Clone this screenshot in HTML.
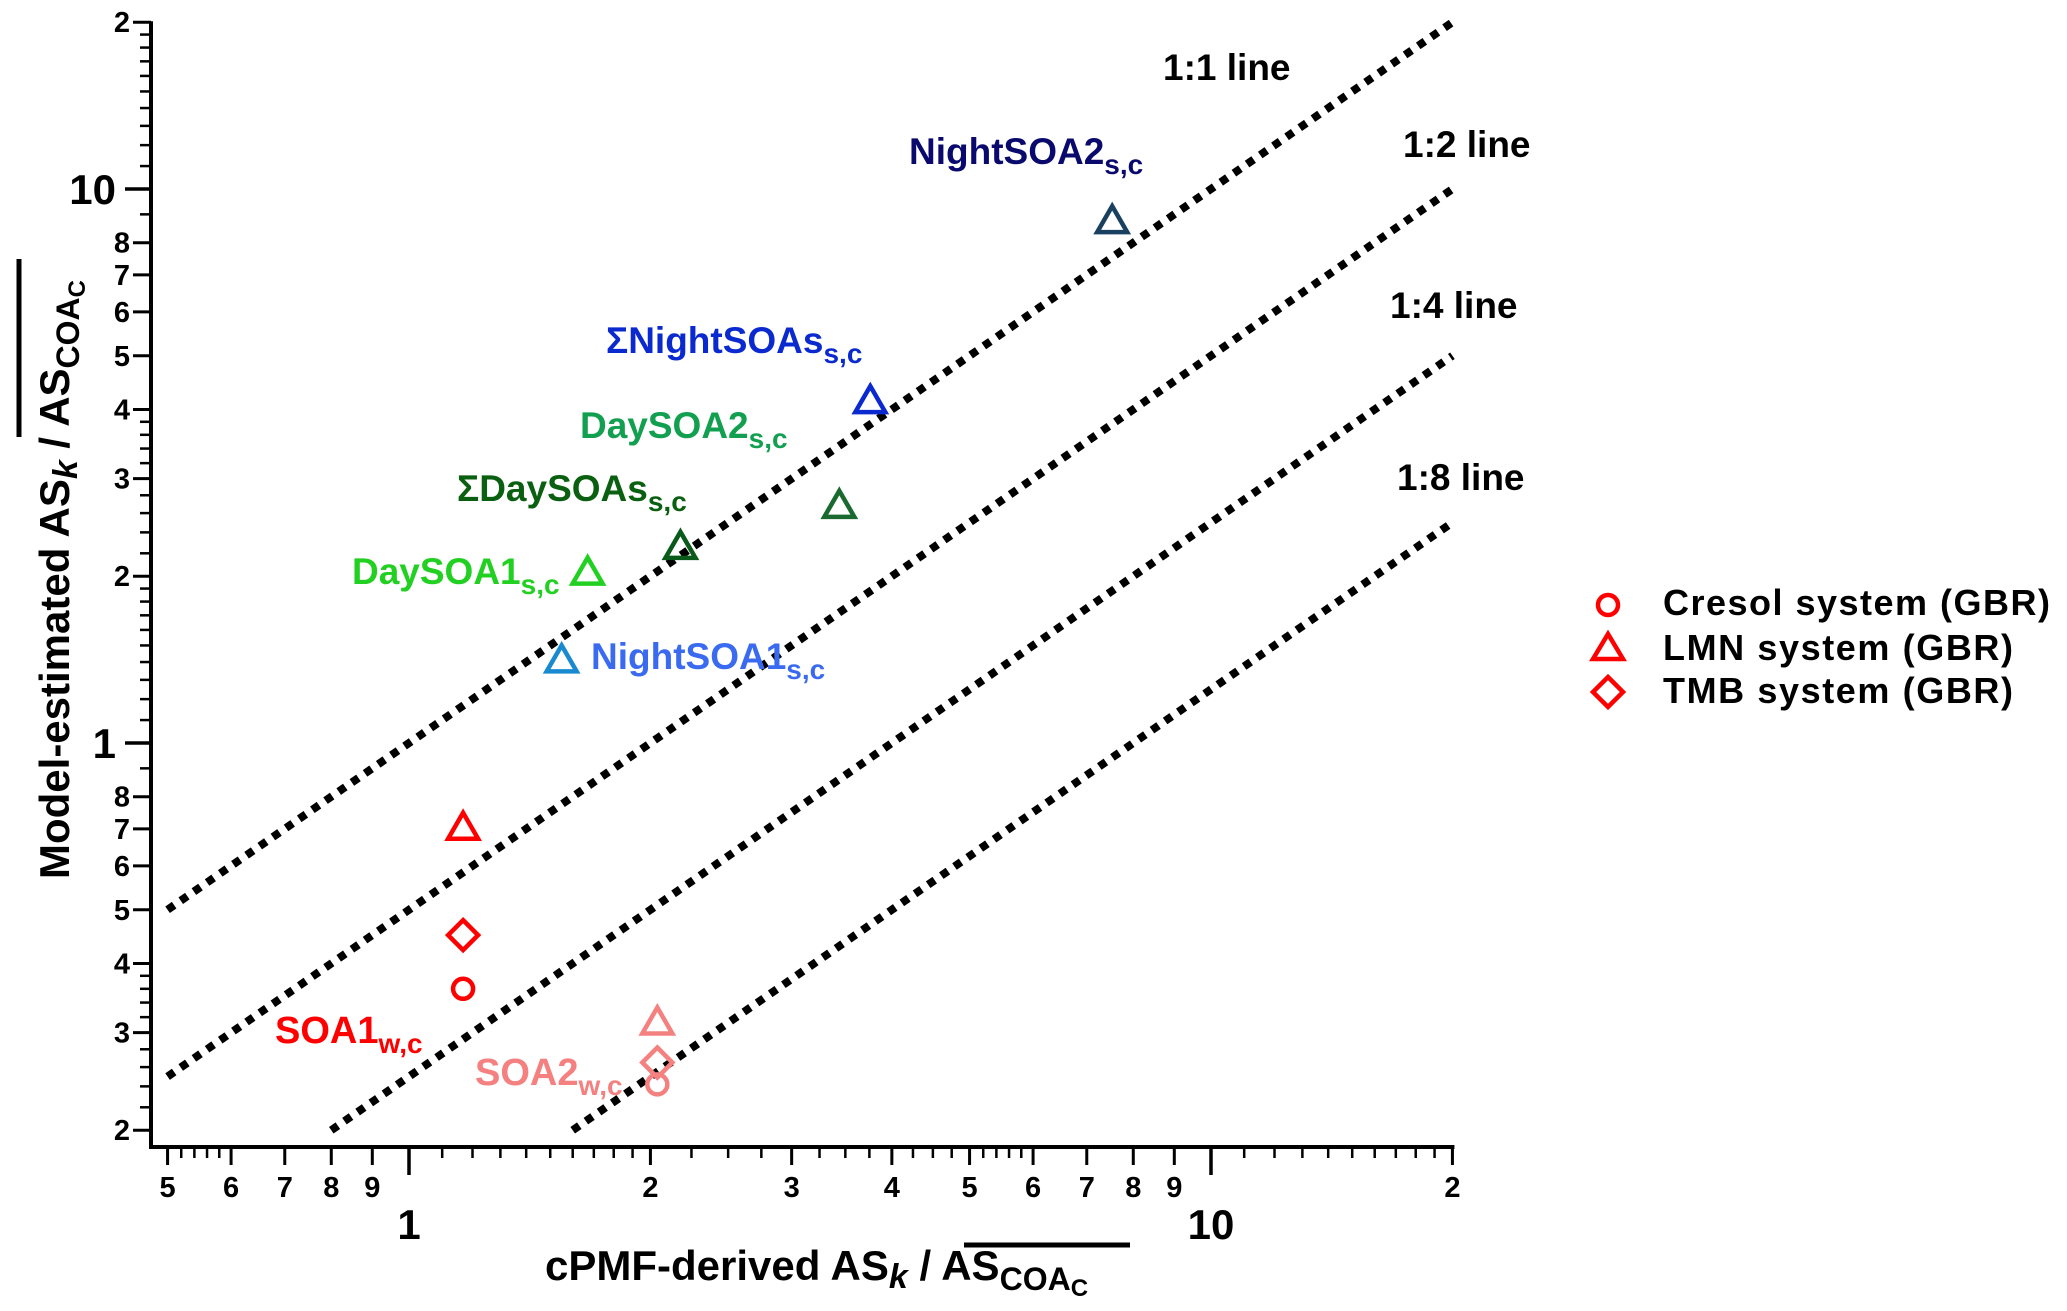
<!DOCTYPE html>
<html><head><meta charset="utf-8"><style>
html,body{margin:0;padding:0;background:#fff}
svg{display:block}
text{font-family:"Liberation Sans",Arial,sans-serif;font-weight:bold}
</style></head><body>
<svg id="chart" width="2067" height="1311" viewBox="0 0 2067 1311" xmlns="http://www.w3.org/2000/svg">
<g id="axes"></g>
<g id="ratio-lines"></g>
<g id="marks"></g>
<g id="labels">
<text x="909" y="164" font-size="37" fill="#0a0a6e">NightSOA2<tspan font-size="28" dy="10">s,c</tspan></text>
<text x="606" y="353" font-size="37" fill="#0a2ad0">ΣNightSOAs<tspan font-size="28" dy="10">s,c</tspan></text>
<text x="580" y="438" font-size="37" fill="#12a050">DaySOA2<tspan font-size="28" dy="10">s,c</tspan></text>
<text x="457" y="501" font-size="37" fill="#0a6010">ΣDaySOAs<tspan font-size="28" dy="10">s,c</tspan></text>
<text x="352" y="584" font-size="37" fill="#22d022">DaySOA1<tspan font-size="28" dy="10">s,c</tspan></text>
<text x="591" y="669" font-size="37" fill="#3a6af0">NightSOA1<tspan font-size="28" dy="10">s,c</tspan></text>
<text x="275" y="1043" font-size="38" fill="#ff0000">SOA1<tspan font-size="28" dy="10">w,c</tspan></text>
<text x="475" y="1085" font-size="38" fill="#f48080">SOA2<tspan font-size="28" dy="10">w,c</tspan></text>
<text x="1163" y="80" font-size="37" fill="#000">1:1 line</text>
<text x="1403" y="157" font-size="37" fill="#000">1:2 line</text>
<text x="1390" y="318" font-size="37" fill="#000">1:4 line</text>
<text x="1397" y="490" font-size="37" fill="#000">1:8 line</text>
</g>
<g id="legend">
<circle cx="1608" cy="605" r="10" fill="none" stroke="#ff0000" stroke-width="4.5"/>
<polygon points="1608,634 1623,659 1593,659" fill="none" stroke="#ff0000" stroke-width="4.5"/>
<polygon points="1608,677 1623,692 1608,707 1593,692" fill="none" stroke="#ff0000" stroke-width="4.5"/>
<text x="1663" y="615" font-size="36" textLength="387">Cresol system (GBR)</text>
<text x="1663" y="660" font-size="36" textLength="350">LMN system (GBR)</text>
<text x="1663" y="703" font-size="36" textLength="350">TMB system (GBR)</text>
</g>
<g id="titles">
<text x="545" y="1280" font-size="42">cPMF-derived AS<tspan font-style="italic" font-size="34" dy="8">k</tspan><tspan dy="-8"> / AS</tspan><tspan font-size="32" dy="10">COA</tspan><tspan font-size="24" dy="6">C</tspan></text>
<line x1="964" y1="1245" x2="1130" y2="1245" stroke="#000" stroke-width="5"/>
<g transform="translate(69,879) rotate(-90)">
<text x="0" y="0" font-size="42">Model-estimated AS<tspan font-style="italic" font-size="34" dy="8">k</tspan><tspan dy="-8"> / AS</tspan><tspan font-size="32" dy="10">COA</tspan><tspan font-size="24" dy="6">C</tspan></text>
<line x1="442" y1="-50" x2="620" y2="-50" stroke="#000" stroke-width="5"/>
</g>
</g>
</svg>
<script>
const xCats=["NightSOA2","SumNightSOAs","SumDaySOAs","DaySOA2","DaySOA1","NightSOA1","SOA1-LMN","SOA1-TMB","SOA1-Cresol","SOA2-LMN","SOA2-TMB","SOA2-Cresol"];
const xValues=[7.53,3.76,3.44,2.18,1.67,1.55,1.168,1.168,1.168,2.04,2.04,2.04];
const yValues=[8.75,4.14,2.68,2.26,2.03,1.41,0.703,0.45,0.36,0.313,0.265,0.242];
const markerShapes=["tri","tri","tri","tri","tri","tri","tri","dia","cir","tri","dia","cir"];
const markerColors=["#1a4060","#0a2ad0","#1a6a30","#0a5a1a","#22d022","#1a8ad0","#ff0000","#ff0000","#ff0000","#f48080","#f48080","#f48080"];
const ratioValues=[1,0.5,0.25,0.125];
const ratioStartX=[0.5,0.5,0.8,1.6];
const ratioEndX=[20,20,20,20];
const xMinorLabels=[0.5,0.6,0.7,0.8,0.9,2,3,4,5,6,7,8,9,20];
const xMinorText=["5","6","7","8","9","2","3","4","5","6","7","8","9","2"];
const xMajor=[1,10];
const yMinorLabels=[0.2,0.3,0.4,0.5,0.6,0.7,0.8,2,3,4,5,6,7,8,20];
const yMinorText=["2","3","4","5","6","7","8","2","3","4","5","6","7","8","2"];
const yMajor=[1,10];

const NS="http://www.w3.org/2000/svg";
const X=v=>409+802*Math.log10(v);
const Y=v=>743-554*Math.log10(v);
function mk(tag,attrs,parent){const e=document.createElementNS(NS,tag);for(const k in attrs)e.setAttribute(k,attrs[k]);parent.appendChild(e);return e;}
const axes=document.getElementById('axes');
const AX=151, AY=1147;
let e;
e=mk('line',{x1:AX,y1:Y(20)-1,x2:AX,y2:AY+2,stroke:'#000','stroke-width':4},axes);


e=mk('line',{x1:AX-2,y1:AY,x2:X(20)+2,y2:AY,stroke:'#000','stroke-width':4},axes);


const xSmall=[];
for(let v=0.5;v<0.6-1e-9;v+=0.02)xSmall.push(v);
for(let v=1.1;v<2-1e-9;v+=0.1)xSmall.push(v);
for(let v=2.25;v<5-1e-9;v+=0.25)xSmall.push(v);
for(let v=5.2;v<6-1e-9;v+=0.2)xSmall.push(v);
for(let v=11;v<20;v+=1)xSmall.push(v);
xSmall.forEach(v=>{const t=mk('line',{x1:X(v),y1:AY,x2:X(v),y2:AY+11,stroke:'#000','stroke-width':2.5},axes);

});
xMinorLabels.forEach((v,i)=>{const t=mk('line',{x1:X(v),y1:AY,x2:X(v),y2:AY+18,stroke:'#000','stroke-width':3},axes);


const l=mk('text',{x:X(v),y:1197,'font-size':29,'text-anchor':'middle'},axes);l.textContent=xMinorText[i];

});
xMajor.forEach(v=>{const t=mk('line',{x1:X(v),y1:AY,x2:X(v),y2:AY+28,stroke:'#000','stroke-width':3.5},axes);


const l=mk('text',{x:X(v),y:1239,'font-size':42,'text-anchor':'middle'},axes);l.textContent=String(v);

});
const ySmall=[];
for(let v=0.22;v<0.4-1e-9;v+=0.02)ySmall.push(v);
ySmall.push(0.9);
for(let v=1.1;v<2-1e-9;v+=0.1)ySmall.push(v);
for(let v=2.2;v<4-1e-9;v+=0.2)ySmall.push(v);
ySmall.push(9);
for(let v=11;v<20;v+=1)ySmall.push(v);
ySmall.forEach(v=>{const t=mk('line',{x1:AX-11,y1:Y(v),x2:AX,y2:Y(v),stroke:'#000','stroke-width':2.5},axes);

});
yMinorLabels.forEach((v,i)=>{const t=mk('line',{x1:AX-18,y1:Y(v),x2:AX,y2:Y(v),stroke:'#000','stroke-width':3},axes);


const l=mk('text',{x:AX-21,y:Y(v)+10,'font-size':29,'text-anchor':'end'},axes);l.textContent=yMinorText[i];

});
yMajor.forEach(v=>{const t=mk('line',{x1:AX-26,y1:Y(v),x2:AX,y2:Y(v),stroke:'#000','stroke-width':3.5},axes);


const l=mk('text',{x:AX-35,y:Y(v)+15,'font-size':42,'text-anchor':'end'},axes);l.textContent=String(v);

});
const rl=document.getElementById('ratio-lines');
ratioValues.forEach((r,i)=>{const a=ratioStartX[i],b=ratioEndX[i];
const ln=mk('line',{x1:X(a),y1:Y(a*r),x2:X(b),y2:Y(b*r),stroke:'#000','stroke-width':8,'stroke-dasharray':'8 8'},rl);

});
const mg=document.getElementById('marks');
xValues.forEach((xv,i)=>{const cx=X(xv),cy=Y(yValues[i]),c=markerColors[i];let m;
if(markerShapes[i]==='tri')m=mk('polygon',{points:`${cx},${cy-15} ${cx+15},${cy+11} ${cx-15},${cy+11}`,fill:'none',stroke:c,'stroke-width':4.5},mg);
else if(markerShapes[i]==='dia')m=mk('polygon',{points:`${cx},${cy-15} ${cx+15},${cy} ${cx},${cy+15} ${cx-15},${cy}`,fill:'none',stroke:c,'stroke-width':4.5},mg);
else m=mk('circle',{cx:cx,cy:cy,r:10,fill:'none',stroke:c,'stroke-width':4.5},mg);

});
</script>
</body></html>
